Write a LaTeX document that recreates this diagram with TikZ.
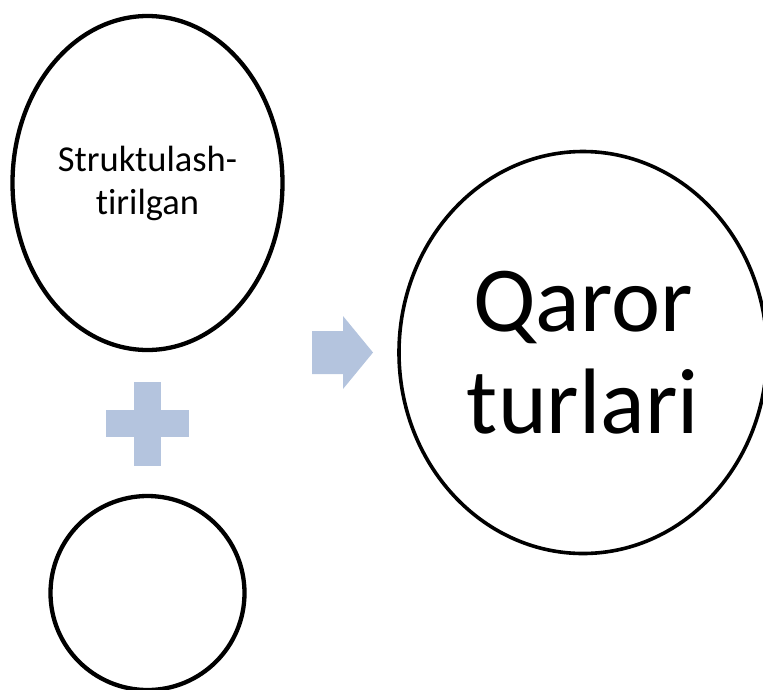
\documentclass[tikz,border=0pt]{standalone}
\usepackage{fontspec}
\setmainfont{Carlito}[Ligatures=NoCommon]
\usetikzlibrary{shapes.geometric}
\definecolor{opcol}{RGB}{180,196,222}
\tikzset{
  oval/.style={ellipse, draw=black, fill=white, inner sep=0pt, align=center},
  smalltext/.style={font=\fontsize{36.5}{43}\selectfont},
  bigtext/.style={font=\fontsize{93}{102}\selectfont},
  opshape/.style={fill=opcol, draw=none}
}
\begin{document}
\begin{tikzpicture}[x=1pt, y=-1pt]
\useasboundingbox (0,0) rectangle (763,689);
\clip (0,0) rectangle (763,689);
\node[oval, line width=4.3pt, smalltext, minimum width=270pt, minimum height=334pt] (a) at (147.5,183) {Struktulash-\\tirilgan};
\node[oval, line width=4.3pt, minimum width=194pt, minimum height=194pt] (b) at (147.5,593) {};
\node[oval, line width=3.6pt, bigtext, minimum width=368pt, minimum height=402pt] (c) at (583,352.5) {Qaror\\turlari};
\fill[opshape] (134,382) rectangle (161,466);
\fill[opshape] (106,410) rectangle (189,437);
\fill[opshape] (312,331) -- (343,331) -- (343,316) -- (373,352.5) -- (343,389) -- (343,374) -- (312,374) -- cycle;
\end{tikzpicture}
\end{document}
